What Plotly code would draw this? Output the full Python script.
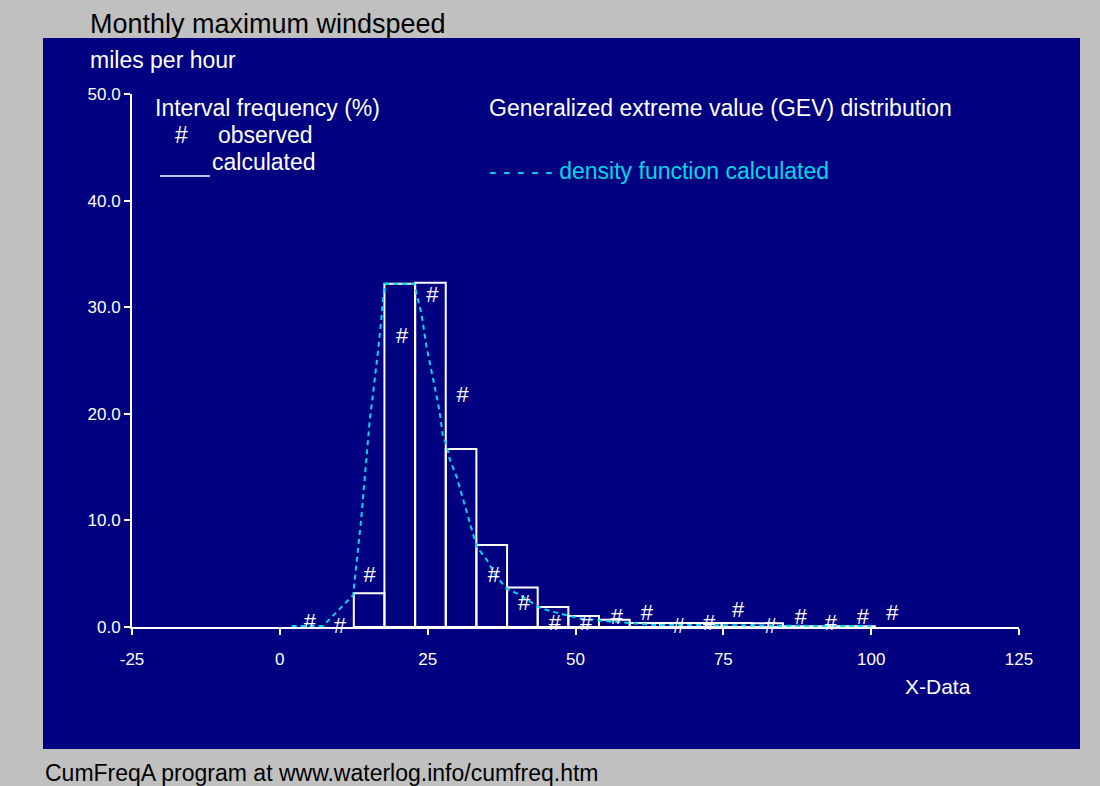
import plotly.graph_objects as go

# ---- data ----
bin_edges = [12.51, 17.69, 22.88, 28.06, 33.24, 38.43, 43.61, 48.79, 53.97,
             59.16, 64.34, 69.52, 74.71, 79.89, 85.07, 90.25, 95.43, 100.61]
calc_freq = [3.16, 32.2, 32.3, 16.7, 7.7, 3.7, 1.88, 1.03, 0.69,
             0.38, 0.38, 0.38, 0.38, 0.36, 0.08, 0.08, 0.08]

obs_x = [5.07, 10.15, 15.2, 20.7, 25.8, 30.9, 36.2, 41.3, 46.5, 51.8,
         57.0, 62.05, 67.5, 72.6, 77.5, 83.0, 88.1, 93.2, 98.6, 103.6]
obs_y = [0.35, 0.0, 4.7, 27.2, 31.0, 21.6, 4.7, 2.15, 0.25, 0.19,
         0.82, 1.13, 0.0, 0.28, 1.44, 0.0, 0.82, 0.28, 0.82, 1.13]

density_x = [2.0, 7.3, 12.4, 13.25, 13.8, 14.4, 14.8, 15.2, 15.7, 16.35, 16.65,
             17.2, 17.64, 17.7, 22.7, 23.1, 23.95, 24.8, 25.65, 26.2, 26.95,
             27.6, 28.2, 28.75, 29.9, 31.0, 32.1, 33.3, 35.0, 36.65, 38.4,
             40.6, 44.0, 46.0, 49.0, 50.7, 54.1, 59.5, 63.1, 70.0, 77.2,
             85.0, 90.0, 95.0, 100.0]
density_y = [0.1, 0.1, 3.0, 7.4, 10.35, 14.25, 17.2, 19.4, 21.6, 24.4, 26.1,
             29.1, 31.45, 32.2, 32.2, 31.3, 29.4, 26.3, 24.1, 22.5, 20.4,
             17.85, 17.1, 15.7, 14.1, 11.9, 9.7, 7.5, 6.3, 4.7, 3.6,
             3.0, 1.8, 1.45, 1.03, 0.82, 0.6, 0.35, 0.19, 0.19, 0.19,
             0.12, 0.1, 0.1, 0.1]

x_ticks = [-25, 0, 25, 50, 75, 100, 125]
y_ticks = [0, 10, 20, 30, 40, 50]

# ---- figure ----
W, H = 1100, 786
L, R, T, B = 132, 81, 94, 159
PW, PH = W - L - R, H - T - B


def px(x):
    return (x - L) / PW


def py(y):
    return (H - B - y) / PH


NAVY = "#000080"
CYAN = "#00D8E8"
FONT = "Liberation Sans, Arial, sans-serif"

bar_centers = [(a + b) / 2 for a, b in zip(bin_edges[:-1], bin_edges[1:])]
bar_widths = [b - a for a, b in zip(bin_edges[:-1], bin_edges[1:])]

fig = go.Figure()
fig.add_trace(go.Bar(
    x=bar_centers, y=calc_freq, width=bar_widths,
    marker=dict(color="rgba(0,0,0,0)", line=dict(color="white", width=2)),
    hoverinfo="skip",
))
fig.add_trace(go.Scatter(
    x=density_x, y=density_y, mode="lines",
    line=dict(color=CYAN, width=2, dash="5px,4px"),
    hoverinfo="skip",
))
fig.add_trace(go.Scatter(
    x=obs_x, y=obs_y, mode="text", text=["#"] * len(obs_x),
    textposition="middle center",
    textfont=dict(color="white", size=22, family=FONT),
    cliponaxis=False, hoverinfo="skip",
))

shapes = [
    dict(type="rect", xref="paper", yref="paper", layer="below",
         x0=px(43), x1=px(1080), y0=py(749), y1=py(38),
         fillcolor=NAVY, line=dict(width=0)),
    dict(type="line", xref="paper", yref="paper",
         x0=px(160), x1=px(210), y0=py(176), y1=py(176),
         line=dict(color="white", width=1.5)),
]


def ann(text, x, y, size=23, color="white", xanchor="left"):
    return dict(text=text, x=px(x), y=py(y), xref="paper", yref="paper",
                xanchor=xanchor, yanchor="middle", showarrow=False,
                font=dict(size=size, color=color, family=FONT))


annotations = [
    ann("Monthly maximum windspeed", 88, 24, size=27, color="black"),
    ann("miles per hour", 88, 60),
    ann("Interval frequency (%)", 153, 108),
    ann("#", 181, 135, xanchor="center"),
    ann("observed", 216, 135),
    ann("calculated", 210, 162),
    ann("Generalized extreme value (GEV) distribution", 487, 108),
    ann("- - - - - density function calculated", 487, 171, color=CYAN),
    ann("X-Data", 938, 686, size=21, xanchor="center"),
    ann("CumFreqA program at www.waterlog.info/cumfreq.htm", 43, 773,
        size=23, color="black"),
]

fig.update_layout(
    width=W, height=H,
    margin=dict(l=L, r=R, t=T, b=B, pad=0),
    paper_bgcolor="#C0C0C0",
    plot_bgcolor=NAVY,
    showlegend=False,
    hovermode=False,
    bargap=0,
    shapes=shapes,
    annotations=annotations,
    xaxis=dict(
        range=[-25, 125], tickvals=x_ticks, ticktext=[str(v) for v in x_ticks],
        showgrid=False, zeroline=False, showline=True, linecolor="white",
        linewidth=2, ticks="outside", ticklen=6, tickcolor="white", tickwidth=2,
        ticklabelstandoff=10,
        tickfont=dict(color="white", size=17, family=FONT),
    ),
    yaxis=dict(
        range=[0, 50], tickvals=y_ticks, tickformat=".1f",
        showgrid=False, zeroline=False, showline=True, linecolor="white",
        linewidth=2, ticks="outside", ticklen=6, tickcolor="white", tickwidth=2,
        tickfont=dict(color="white", size=17, family=FONT),
    ),
)

fig.write_html(
    "out.html",
    config={"displayModeBar": False, "staticPlot": True},
    post_script="document.body.style.margin='0';document.body.style.overflow='hidden';",
)
